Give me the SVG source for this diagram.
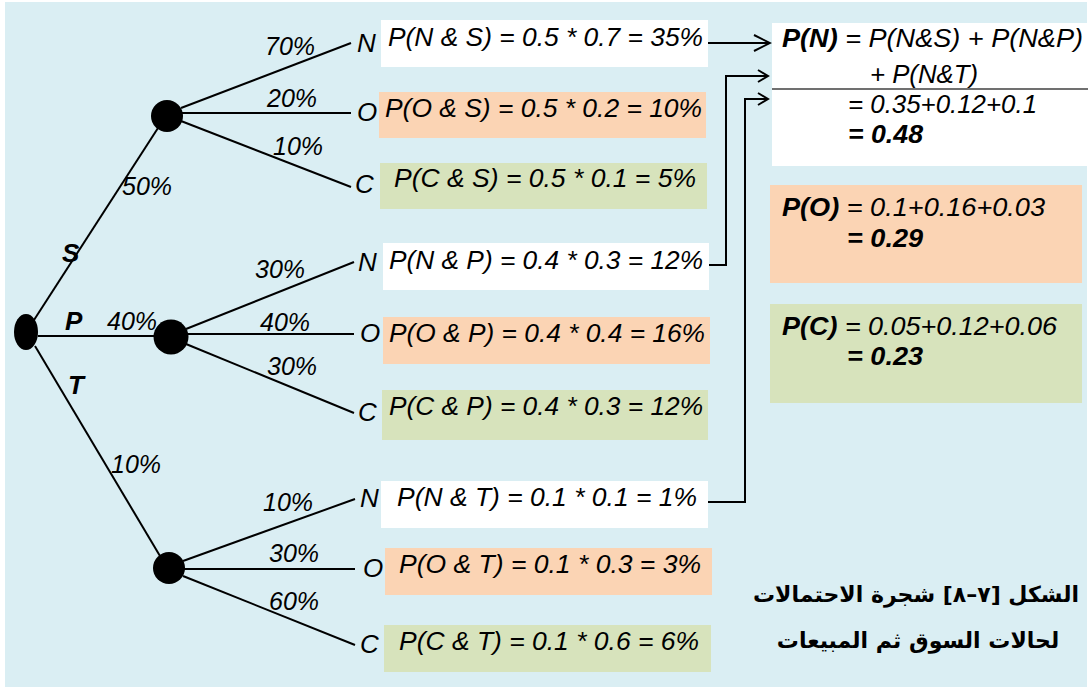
<svg xmlns="http://www.w3.org/2000/svg" width="1092" height="691" viewBox="0 0 1092 691">
<style>
.t{font-family:"Liberation Sans",Arial,sans-serif;font-style:italic;fill:#000}
.f{font-size:26px}
.r{font-size:25px}
.pct{font-size:25px}
.lt{font-size:26px}
.b{font-weight:bold}
.edge{stroke:#000;stroke-width:2;fill:none}
.conn{stroke:#000;stroke-width:2;fill:none}
.ar{font-family:"DejaVu Sans","Noto Sans",sans-serif;font-weight:bold;font-size:22px;fill:#000}
</style>
<defs>
<marker id="arr" viewBox="0 0 20 20" refX="18" refY="10" markerWidth="20" markerHeight="20" markerUnits="userSpaceOnUse" orient="auto">
<path d="M2,2 L18,10 L2,18" fill="none" stroke="#000" stroke-width="2"/>
</marker>
<marker id="arr2" viewBox="0 0 14 14" refX="12" refY="7" markerWidth="14" markerHeight="14" markerUnits="userSpaceOnUse" orient="auto">
<path d="M2,1 L12,7 L2,13" fill="none" stroke="#000" stroke-width="2"/>
</marker>
</defs>
<rect x="0" y="0" width="1092" height="691" fill="#fff"/>
<rect x="5" y="2" width="1082" height="685" fill="#DAEEF3"/>

<g id="edges">
<line class="edge" x1="34" y1="320" x2="158" y2="128"/>
<line class="edge" x1="38" y1="336" x2="156" y2="336"/>
<line class="edge" x1="35" y1="346" x2="160" y2="556"/>
<line class="edge" x1="181" y1="108" x2="351" y2="43"/>
<line class="edge" x1="182" y1="113" x2="351" y2="113"/>
<line class="edge" x1="181" y1="121" x2="351" y2="187"/>
<line class="edge" x1="186" y1="329" x2="354" y2="262"/>
<line class="edge" x1="188" y1="334" x2="354" y2="334"/>
<line class="edge" x1="186" y1="344" x2="354" y2="413"/>
<line class="edge" x1="183" y1="561" x2="355" y2="499"/>
<line class="edge" x1="184" y1="569" x2="355" y2="569"/>
<line class="edge" x1="183" y1="576" x2="355" y2="645"/>
</g>

<g id="connectors">
<line class="conn" x1="708" y1="43" x2="770" y2="43" marker-end="url(#arr)"/>
<polyline class="conn" points="709,265 726,265 726,76 768,76" marker-end="url(#arr2)"/>
<polyline class="conn" points="708,502 745,502 745,99 768,99" marker-end="url(#arr2)"/>
</g>

<g id="root"><ellipse cx="26" cy="332" rx="12" ry="18" fill="#000"/></g>
<g id="node-S"><circle cx="167" cy="116" r="16" fill="#000"/></g>
<g id="node-P"><circle cx="171" cy="337" r="17.5" fill="#000"/></g>
<g id="node-T"><circle cx="169" cy="568" r="16" fill="#000"/></g>

<g id="edge-labels">
<text class="t lt b" x="62" y="262">S</text>
<text class="t lt b" x="65" y="330">P</text>
<text class="t lt b" x="68" y="394">T</text>
<text class="t pct" x="122" y="195">50%</text>
<text class="t pct" x="107" y="330">40%</text>
<text class="t pct" x="111" y="473">10%</text>
<text class="t pct" x="265" y="55">70%</text>
<text class="t pct" x="267" y="107">20%</text>
<text class="t pct" x="273" y="155">10%</text>
<text class="t pct" x="255" y="278">30%</text>
<text class="t pct" x="260" y="331">40%</text>
<text class="t pct" x="267" y="375">30%</text>
<text class="t pct" x="263" y="511">10%</text>
<text class="t pct" x="269" y="562">30%</text>
<text class="t pct" x="269" y="610">60%</text>
</g>

<g id="outcome-letters">
<text class="t lt" x="357" y="52">N</text>
<text class="t lt" x="357" y="121">O</text>
<text class="t lt" x="355" y="193">C</text>
<text class="t lt" x="358" y="271">N</text>
<text class="t lt" x="360" y="342">O</text>
<text class="t lt" x="358" y="421">C</text>
<text class="t lt" x="360" y="507">N</text>
<text class="t lt" x="363" y="577">O</text>
<text class="t lt" x="360" y="653">C</text>
</g>

<g id="box-NS"><rect x="381" y="20" width="327" height="47" fill="#fff"/><text class="t f" x="388" y="46" textLength="315" lengthAdjust="spacingAndGlyphs">P(N &amp; S) = 0.5 * 0.7 = 35%</text></g>
<g id="box-OS"><rect x="379" y="92" width="327" height="46" fill="#FBD4B4"/><text class="t f" x="385" y="117" textLength="317" lengthAdjust="spacingAndGlyphs">P(O &amp; S) = 0.5 * 0.2 = 10%</text></g>
<g id="box-CS"><rect x="380" y="163" width="327" height="46" fill="#D7E3BC"/><text class="t f" x="394" y="187" textLength="302" lengthAdjust="spacingAndGlyphs">P(C &amp; S) = 0.5 * 0.1 = 5%</text></g>

<g id="box-NP"><rect x="383" y="243" width="326" height="47" fill="#fff"/><text class="t f" x="389" y="269" textLength="314" lengthAdjust="spacingAndGlyphs">P(N &amp; P) = 0.4 * 0.3 = 12%</text></g>
<g id="box-OP"><rect x="383" y="317" width="327" height="47" fill="#FBD4B4"/><text class="t f" x="389" y="342" textLength="316" lengthAdjust="spacingAndGlyphs">P(O &amp; P) = 0.4 * 0.4 = 16%</text></g>
<g id="box-CP"><rect x="382" y="390" width="326" height="50" fill="#D7E3BC"/><text class="t f" x="389" y="415" textLength="314" lengthAdjust="spacingAndGlyphs">P(C &amp; P) = 0.4 * 0.3 = 12%</text></g>

<g id="box-NT"><rect x="381" y="481" width="327" height="47" fill="#fff"/><text class="t f" x="397" y="506" textLength="300" lengthAdjust="spacingAndGlyphs">P(N &amp; T) = 0.1 * 0.1 = 1%</text></g>
<g id="box-OT"><rect x="385" y="548" width="327" height="47" fill="#FBD4B4"/><text class="t f" x="399" y="573" textLength="302" lengthAdjust="spacingAndGlyphs">P(O &amp; T) = 0.1 * 0.3 = 3%</text></g>
<g id="box-CT"><rect x="384" y="625" width="327" height="47" fill="#D7E3BC"/><text class="t f" x="399" y="650" textLength="300" lengthAdjust="spacingAndGlyphs">P(C &amp; T) = 0.1 * 0.6 = 6%</text></g>

<g id="box-PN">
<rect x="772" y="23" width="316" height="143" fill="#fff"/>
<line x1="772" y1="89" x2="1088" y2="89" stroke="#404040" stroke-width="1.5"/>
<text class="t r" x="782" y="47" textLength="301" lengthAdjust="spacingAndGlyphs"><tspan class="b">P(N)</tspan> = P(N&amp;S) +  P(N&amp;P)</text>
<text class="t r" x="870" y="83" textLength="108" lengthAdjust="spacingAndGlyphs">+ P(N&amp;T)</text>
<text class="t r" x="848" y="113" textLength="189" lengthAdjust="spacingAndGlyphs">= 0.35+0.12+0.1</text>
<text class="t r b" x="848" y="143" textLength="75" lengthAdjust="spacingAndGlyphs">= 0.48</text>
</g>

<g id="box-PO">
<rect x="770" y="185" width="312" height="98" fill="#FBD4B4"/>
<text class="t r" x="782" y="216" textLength="263" lengthAdjust="spacingAndGlyphs"><tspan class="b">P(O)</tspan> =  0.1+0.16+0.03</text>
<text class="t r b" x="847" y="247" textLength="76" lengthAdjust="spacingAndGlyphs">= 0.29</text>
</g>

<g id="box-PC">
<rect x="770" y="304" width="312" height="99" fill="#D7E3BC"/>
<text class="t r" x="782" y="335" textLength="275" lengthAdjust="spacingAndGlyphs"><tspan class="b">P(C)</tspan> =  0.05+0.12+0.06</text>
<text class="t r b" x="847" y="365" textLength="76" lengthAdjust="spacingAndGlyphs">= 0.23</text>
</g>

<g id="caption">
<text class="ar" x="916" y="602" text-anchor="middle" direction="rtl">الشكل [٧–٨] شجرة الاحتمالات</text>
<text class="ar" x="918" y="648" text-anchor="middle" direction="rtl">لحالات السوق ثم المبيعات</text>
</g>
</svg>
